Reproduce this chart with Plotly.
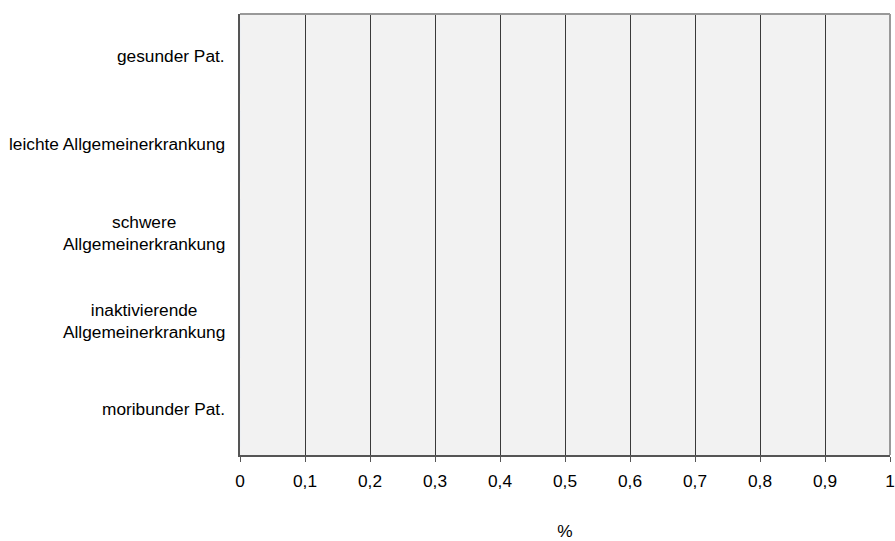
import plotly.graph_objects as go

categories = ["gesunder Pat.", "leichte Allgemeinerkrankung", "schwere<br>Allgemeinerkrankung",
              "inaktivierende<br>Allgemeinerkrankung", "moribunder Pat."]
values = [0, 0, 0, 0, 0]
tick_values = [0, 0.1, 0.2, 0.3, 0.4, 0.5, 0.6, 0.7, 0.8, 0.9, 1]
tick_labels = ["0", "0,1", "0,2", "0,3", "0,4", "0,5", "0,6", "0,7", "0,8", "0,9", "1"]

FONT = "Liberation Sans, Arial, sans-serif"
FS = 17.3

fig = go.Figure()
fig.add_trace(go.Bar(y=categories, x=values, orientation="h", marker_color="#4f81bd",
                     showlegend=False, hoverinfo="skip"))

annotations = []
for c in categories:
    annotations.append(dict(x=0, xref="paper", xshift=-13, y=c, yref="y", yshift=2, text=c,
                            xanchor="right", align="center", showarrow=False,
                            font=dict(family=FONT, size=FS, color="#000")))

fig.update_layout(
    width=895, height=541,
    margin=dict(l=240, r=5, t=14, b=86),
    paper_bgcolor="white", plot_bgcolor="#f2f2f2",
    font=dict(family=FONT, size=FS, color="#000"),
    annotations=annotations,
    xaxis=dict(range=[0, 1], tickvals=tick_values, ticktext=tick_labels,
               showgrid=True, gridcolor="#3a3a3a", gridwidth=1,
               showline=True, linecolor="#555", linewidth=2,
               ticks="outside", ticklen=5, tickcolor="#555",
               ticklabelstandoff=4, automargin=False,
               title=dict(text="%", standoff=42, font=dict(size=FS)),
               zeroline=False, fixedrange=True),
    yaxis=dict(categoryorder="array", categoryarray=categories, autorange="reversed",
               showticklabels=False, showgrid=False, showline=True, automargin=False,
               linecolor="#555", linewidth=2, ticks="", zeroline=False),
    shapes=[
        dict(type="line", xref="paper", yref="paper", x0=0, x1=1, y0=1, y1=1,
             line=dict(color="#999", width=2)),
        dict(type="line", xref="paper", yref="paper", x0=1, x1=1, y0=0, y1=1,
             line=dict(color="#999", width=2)),
    ],
)

fig.write_html("out.html", config={"displayModeBar": False},
               post_script="document.body.style.margin='0';document.body.style.overflow='hidden';")
